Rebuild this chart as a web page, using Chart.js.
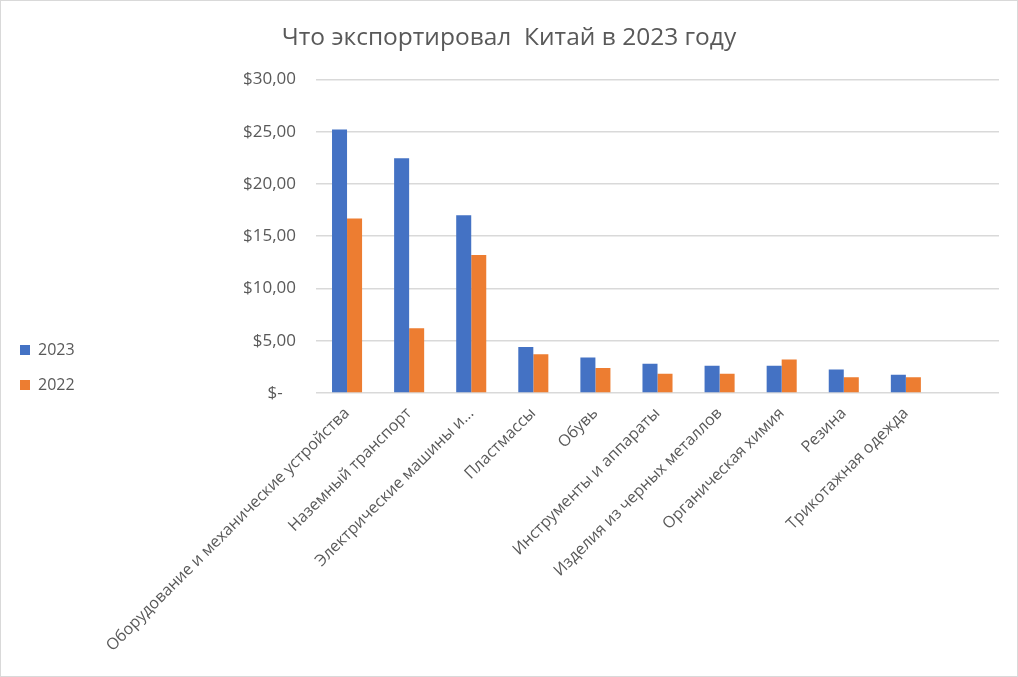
<!DOCTYPE html>
<html>
<head>
<meta charset="utf-8">
<script src="https://cdn.jsdelivr.net/npm/chart.js@4"></script>
<style>
  body { margin: 0; background: #fff; }
  #wrap { width: 1016px; height: 675px; border: 1px solid #d9d9d9; }
</style>
</head>
<body>
<div id="wrap"><canvas id="chart" width="1016" height="675"></canvas></div>
<script>
// categories (the last slot is empty in the original)
const categories = [
    'Оборудование и механические устройства',
    'Наземный транспорт',
    'Электрические машины и...',
    'Пластмассы',
    'Обувь',
    'Инструменты и аппараты',
    'Изделия из черных металлов',
    'Органическая химия',
    'Резина',
    'Трикотажная одежда',
    ''
];

const values2023 = [25.2, 22.45, 17.0, 4.4, 3.4, 2.8, 2.6, 2.6, 2.25, 1.75, null];
const values2022 = [16.7, 6.2, 13.2, 3.7, 2.4, 1.85, 1.85, 3.2, 1.5, 1.5, null];

const yTicks = [0, 5, 10, 15, 20, 25, 30];

const grey = '#595959';
const font = "'Open Sans', 'DejaVu Sans', sans-serif";

function money(v) {
    if (v === 0) return '$-   ';
    return '$' + v.toFixed(2).replace('.', ',');
}

// move the legend a bit lower and the title a bit right, like in the excel chart
const boxShift = {
    id: 'boxShift',
    afterLayout(chart) {
        chart.legend.top += 19;
        chart.legend.bottom += 19;
        chart.titleBlock.left += 9;
        chart.titleBlock.right += 9;
    }
};

new Chart(document.querySelector('#chart').getContext('2d'), {
    type: 'bar',
    data: {
        labels: categories,
        datasets: [
            { label: '2023', data: values2023, backgroundColor: '#4472C4' },
            { label: '2022', data: values2022, backgroundColor: '#ED7D31' }
        ]
    },
    plugins: [boxShift],
    options: {
        responsive: false,
        animation: false,
        layout: { padding: { left: 0, right: 18, top: 0, bottom: 0 } },
        datasets: { bar: { barPercentage: 1, categoryPercentage: 0.484 } },
        plugins: {
            title: {
                display: true,
                text: 'Что экспортировал  Китай в 2023 году',
                color: grey,
                font: { family: font, size: 24.5, weight: 'normal' },
                padding: { top: 22, bottom: 27 }
            },
            legend: {
                position: 'left',
                align: 'end',
                fullSize: false,
                labels: {
                    color: grey,
                    font: { family: font, size: 16 },
                    boxWidth: 10,
                    boxHeight: 10,
                    padding: 19
                }
            },
            tooltip: { enabled: false }
        },
        scales: {
            x: {
                grid: { display: false },
                border: { display: false },
                ticks: {
                    color: grey,
                    font: { family: font, size: 16 },
                    maxRotation: 45,
                    minRotation: 45,
                    autoSkip: false
                },
                afterFit: s => { s.height = 283; }
            },
            y: {
                min: 0,
                max: 30,
                afterBuildTicks: s => { s.ticks = yTicks.map(v => ({ value: v })); },
                grid: { color: '#d9d9d9', lineWidth: 1.5, drawTicks: false },
                border: { display: false },
                ticks: {
                    color: grey,
                    font: { family: font, size: 17 },
                    padding: 20,
                    callback: v => money(v)
                },
                afterFit: s => {
                    const lw = s.chart.legend ? s.chart.legend.width : 0;
                    s.width = 315 - lw;
                }
            }
        }
    }
});
</script>
</body>
</html>
